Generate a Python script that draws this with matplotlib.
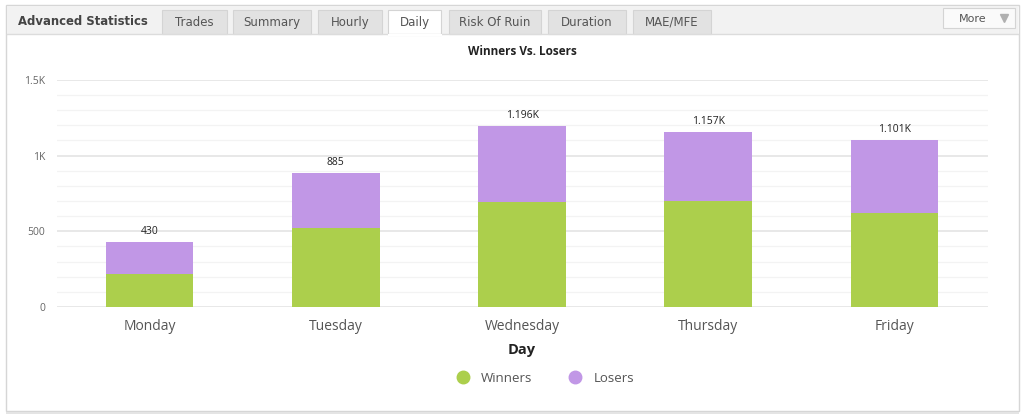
import numpy as np
import matplotlib
matplotlib.use('Agg')
import matplotlib.pyplot as plt
from matplotlib.patches import Rectangle
from matplotlib.lines import Line2D

days = ['Monday', 'Tuesday', 'Wednesday', 'Thursday', 'Friday']
winners = [218, 523, 695, 700, 618]
losers = [212, 362, 501, 457, 483]
totals = ['430', '885', '1.196K', '1.157K', '1.101K']

tabs = ['Trades', 'Summary', 'Hourly', 'Daily', 'Risk Of Ruin', 'Duration', 'MAE/MFE']
tab_x = [162, 233, 318, 388, 449, 548, 633]
tab_w = [65, 78, 64, 53, 92, 78, 78]

green = '#accf4c'
purple = '#c197e6'

fig = plt.figure(figsize=(10.24, 4.17), dpi=100)

# page decoration (panel, tab bar)
bg = fig.add_axes([0, 0, 1, 1])
bg.set_xlim(0, 1024)
bg.set_ylim(417, 0)
bg.axis('off')
bg.add_patch(Rectangle((6, 5), 1013, 406, facecolor='white', edgecolor='#d6d6d6', lw=1))
bg.add_patch(Rectangle((6, 412), 1013, 2, facecolor='#e4e4e4', edgecolor='none'))
bg.add_patch(Rectangle((7, 6), 1011, 28, facecolor='#f2f2f2', edgecolor='none'))
bg.plot([7, 1018], [34, 34], color='#dcdcdc', lw=1)
bg.text(18, 21, 'Advanced Statistics', fontsize=8.4, fontweight='bold', color='#444444',
        va='center', ha='left', family='DejaVu Sans')
for name, x0, w in zip(tabs, tab_x, tab_w):
    active = name == 'Daily'
    fc = 'white' if active else '#e2e2e2'
    bg.add_patch(Rectangle((x0, 10), w, 25 if active else 24, facecolor=fc,
                           edgecolor='#d4d4d4', lw=0.8))
    if active:
        bg.plot([x0 + 0.5, x0 + w - 0.5], [34.5, 34.5], color='white', lw=1.5)
    bg.text(x0 + w / 2, 22, name, fontsize=8.5, color='#555555', ha='center', va='center',
            family='DejaVu Sans')
bg.add_patch(Rectangle((943, 8), 72, 20, facecolor='#fafafa', edgecolor='#d4d4d4', lw=0.8))
bg.text(973, 18.5, 'More', fontsize=8, color='#555555', ha='center', va='center',
        family='DejaVu Sans')
bg.plot([1004], [17.5], marker='v', color='#b0b0b0', ms=6)

# chart
ax = fig.add_axes([0.0552, 0.2638, 0.9092, 0.5448])
x = np.arange(len(days))
ax.bar(x, winners, width=0.47, color=green, zorder=3)
ax.bar(x, losers, width=0.47, bottom=winners, color=purple, zorder=3)
for i in range(len(days)):
    ax.text(x[i], winners[i] + losers[i] + 32, totals[i], ha='center', va='bottom',
            fontsize=7.5, color='#222222', family='Open Sans')

ax.set_xlim(-0.5, len(days) - 0.5)
ax.set_ylim(0, 1500)
ax.set_yticks([0, 500, 1000, 1500])
ax.set_yticklabels(['0', '500', '1K', '1.5K'], fontsize=7.5, color='#666666', family='Open Sans')
ax.set_yticks(np.arange(0, 1501, 100), minor=True)
ax.grid(axis='y', which='major', color='#e4e4e4', lw=1.2, zorder=0)
ax.grid(axis='y', which='minor', color='#f3f3f3', lw=0.9, zorder=0)
ax.tick_params(axis='y', which='both', length=0, pad=8)
ax.set_xticks(x)
ax.set_xticklabels(days, fontsize=10, color='#555555', family='Open Sans')
ax.tick_params(axis='x', length=0, pad=9)
for s in ax.spines.values():
    s.set_visible(False)
ax.set_xlabel('Day', fontsize=10.5, fontweight='bold', color='#222222', labelpad=6,
              family='Open Sans')
ax.set_title('Winners Vs. Losers', fontsize=8.5, fontweight='bold', color='#222222',
             pad=18, family='Open Sans')

handles = [Line2D([], [], marker='o', ls='', color=green, ms=9),
           Line2D([], [], marker='o', ls='', color=purple, ms=9)]
fig.legend(handles, ['Winners', 'Losers'], loc='center', bbox_to_anchor=(0.529, 0.093),
           ncol=2, frameon=False, labelcolor='#555555',
           handletextpad=0.4, columnspacing=2.2, prop={'family': 'Open Sans', 'size': 9.5})

fig.savefig('out.png', dpi=100)
